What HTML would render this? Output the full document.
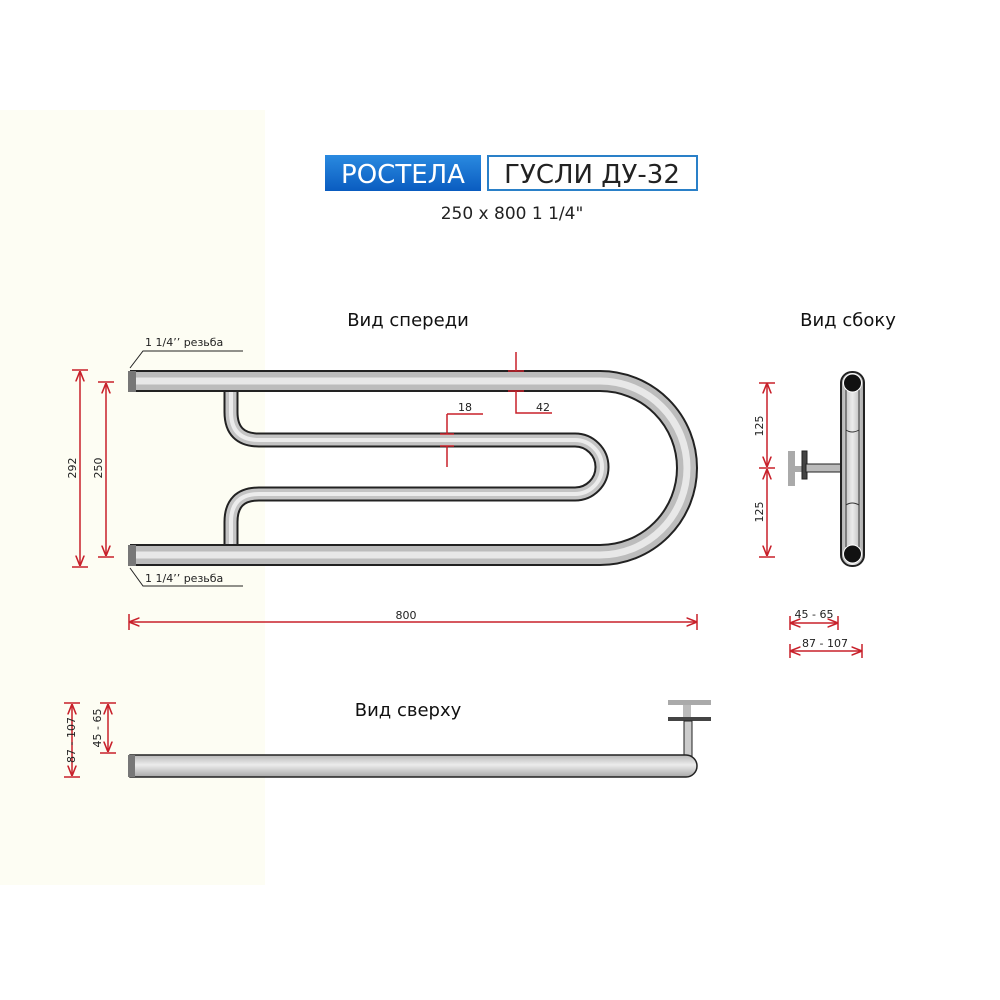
<!DOCTYPE html>
<html><head><meta charset="utf-8"><style>
body{margin:0;background:#fff}
svg{display:block}
text{font-family:"DejaVu Sans","Liberation Sans",sans-serif}
</style></head><body>
<svg width="1000" height="1000" viewBox="0 0 1000 1000">
<defs>
<linearGradient id="gv" x1="0" y1="0" x2="1" y2="0"><stop offset="0" stop-color="#b0b0b0"/><stop offset="0.5" stop-color="#ececec"/><stop offset="1" stop-color="#a8a8a8"/></linearGradient>
<linearGradient id="gh" x1="0" y1="0" x2="0" y2="1"><stop offset="0" stop-color="#b8b8b8"/><stop offset="0.45" stop-color="#ececec"/><stop offset="1" stop-color="#a8a8a8"/></linearGradient>
<linearGradient id="bl" x1="0" y1="0" x2="0" y2="1"><stop offset="0" stop-color="#2a8ae0"/><stop offset="1" stop-color="#0a5cc0"/></linearGradient>
<marker id="a" viewBox="0 0 10 10" refX="10" refY="5" markerWidth="7" markerHeight="7" orient="auto-start-reverse"><path d="M0,1 L10,5 L0,9" fill="none" stroke="#c8202a" stroke-width="1.5"/></marker>
</defs>
<rect x="0" y="110" width="265" height="775" fill="#fdfdf3"/>
<!-- header -->
<rect x="325" y="155" width="156" height="36" fill="url(#bl)"/>
<text x="403" y="183" fill="#fff" font-size="26" text-anchor="middle" font-family="Liberation Sans,sans-serif">РОСТЕЛА</text>
<rect x="488" y="156" width="209" height="34" fill="#fff" stroke="#2a80c8" stroke-width="2"/>
<text x="592" y="183" fill="#222" font-size="26" text-anchor="middle" font-family="Liberation Sans,sans-serif">ГУСЛИ ДУ-32</text>
<text x="512" y="219" fill="#222" font-size="17" text-anchor="middle">250 x 800 1 1/4"</text>
<text x="408" y="326" font-size="18" text-anchor="middle" fill="#111">Вид спереди</text>
<text x="848" y="326" font-size="18" text-anchor="middle" fill="#111">Вид сбоку</text>
<text x="408" y="716" font-size="18" text-anchor="middle" fill="#111">Вид сверху</text>
<!-- front view inner serpentine -->
<g fill="none" stroke-linecap="round">
<path d="M231,392 V412 Q231,440 259,440 H575 A27,27 0 0 1 575,494 H259 Q231,494 231,522 V545" stroke="#222" stroke-width="15"/>
<path d="M231,392 V412 Q231,440 259,440 H575 A27,27 0 0 1 575,494 H259 Q231,494 231,522 V545" stroke="#c4c4c4" stroke-width="11"/>
<path d="M231,392 V412 Q231,440 259,440 H575 A27,27 0 0 1 575,494 H259 Q231,494 231,522 V545" stroke="#ececec" stroke-width="4"/>
</g>
<g fill="none">
<path d="M130,381 H600 A87,87 0 0 1 600,555 H130" stroke="#222" stroke-width="22"/>
<path d="M130,381 H600 A87,87 0 0 1 600,555 H130" stroke="#bcbcbc" stroke-width="18"/>
<path d="M130,381 H600 A87,87 0 0 1 600,555 H130" stroke="#e8e8e8" stroke-width="7"/>
</g>
<rect x="128" y="371" width="8" height="21" fill="#777"/>
<rect x="128" y="545" width="8" height="21" fill="#777"/>
<!-- thread labels -->
<g stroke="#222" stroke-width="1" fill="none"><path d="M130,368 L143,351 H243"/><path d="M130,568 L143,586 H243"/></g>
<text x="145" y="346" font-size="11" fill="#222">1 1/4’’ резьба</text>
<text x="145" y="582" font-size="11" fill="#222">1 1/4’’ резьба</text>
<!-- red dims -->
<g stroke="#c8202a" stroke-width="1.5" fill="none">
<path d="M80,371 V566" marker-start="url(#a)" marker-end="url(#a)"/><path d="M72,370 H88 M72,567 H88"/>
<path d="M106,383 V556" marker-start="url(#a)" marker-end="url(#a)"/><path d="M98,382 H114 M98,557 H114"/>
<path d="M129,622 H697" marker-start="url(#a)" marker-end="url(#a)"/><path d="M129,614 V630 M697,614 V630"/>
<path d="M516,352 V371 M516,391 V413 H552"/><path d="M508,371 H524 M508,391 H524"/>
<path d="M447,414 H483 M447,414 V434 M447,446 V467"/><path d="M440,434 H454 M440,446 H454"/>
<path d="M767,383 V467" marker-start="url(#a)" marker-end="url(#a)"/><path d="M767,469 V556" marker-start="url(#a)" marker-end="url(#a)"/><path d="M759,383 H775 M759,468 H775 M759,557 H775"/>
<path d="M790,623 H838" marker-start="url(#a)" marker-end="url(#a)"/><path d="M790,616 V630 M838,616 V630"/>
<path d="M790,651 H862" marker-start="url(#a)" marker-end="url(#a)"/><path d="M790,644 V658 M862,644 V658"/>
<path d="M72,704 V776" marker-start="url(#a)" marker-end="url(#a)"/><path d="M64,703 H80 M64,777 H80"/>
<path d="M108,704 V752" marker-start="url(#a)" marker-end="url(#a)"/><path d="M100,703 H116 M100,753 H116"/>
</g>
<g font-size="11" fill="#222">
<text transform="translate(76,468) rotate(-90)" text-anchor="middle">292</text>
<text transform="translate(102,468) rotate(-90)" text-anchor="middle">250</text>
<text x="406" y="619" text-anchor="middle">800</text>
<text x="536" y="411">42</text>
<text x="458" y="411">18</text>
<text transform="translate(763,426) rotate(-90)" text-anchor="middle">125</text>
<text transform="translate(763,512) rotate(-90)" text-anchor="middle">125</text>
<text x="814" y="618" text-anchor="middle">45 - 65</text>
<text x="825" y="647" text-anchor="middle">87 - 107</text>
<text transform="translate(75,740) rotate(-90)" text-anchor="middle">87 - 107</text>
<text transform="translate(101,728) rotate(-90)" text-anchor="middle">45 - 65</text>
</g>
<!-- side view -->
<rect x="788" y="451" width="7" height="35" fill="#aaa"/>
<rect x="795" y="466" width="8" height="6" fill="#aaa"/>
<rect x="802" y="451" width="5" height="28" fill="#444" stroke="#222"/>
<rect x="806" y="464" width="38" height="8" fill="#bbb" stroke="#222"/>
<rect x="841" y="372" width="23" height="194" rx="11" fill="url(#gv)" stroke="#222" stroke-width="2"/>
<path d="M846,384 V554 M859,384 V554" stroke="#333" stroke-width="1"/>
<path d="M846,430 Q852,434 859,430 M846,505 Q852,501 859,505" stroke="#333" fill="none"/>
<circle cx="852.5" cy="383" r="9" fill="#111" stroke="#fff" stroke-width="1"/>
<circle cx="852.5" cy="554" r="9" fill="#111" stroke="#fff" stroke-width="1"/>
<!-- top view -->
<rect x="668" y="700" width="43" height="5" fill="#aaa"/>
<rect x="683" y="705" width="8" height="12" fill="#bbb"/>
<rect x="668" y="717" width="43" height="4" fill="#444"/>
<rect x="684" y="721" width="8" height="36" fill="#ccc" stroke="#222"/>
<path d="M130,755 H686 A11,11 0 0 1 686,777 H130 Z" fill="url(#gh)" stroke="#222" stroke-width="1.5"/>
<rect x="128" y="755" width="7" height="22" fill="#777"/>
</svg>
</body></html>
